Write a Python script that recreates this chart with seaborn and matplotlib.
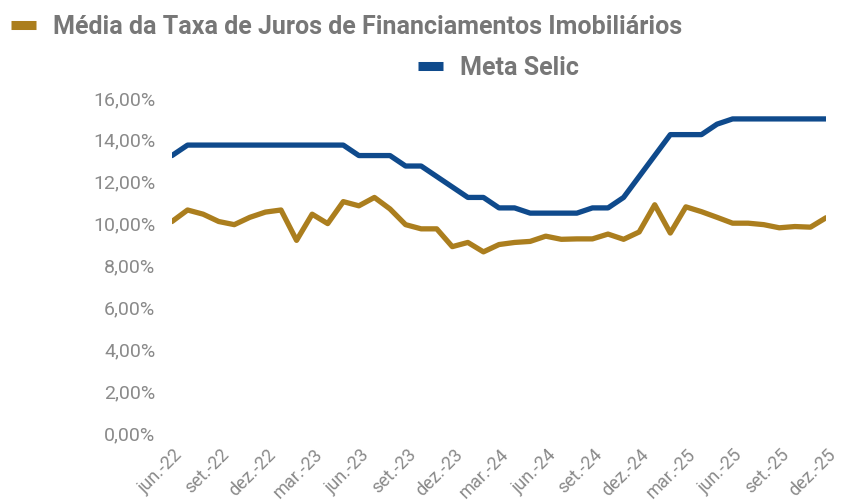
import matplotlib
matplotlib.use("Agg")
import matplotlib.pyplot as plt
import matplotlib.transforms as mtransforms
import seaborn as sns
import pandas as pd
from matplotlib.lines import Line2D
from matplotlib.ticker import FuncFormatter

# mês de referência (jun/22 a dez/25)
meses = [
    "jun.-22", "jul.-22", "ago.-22", "set.-22", "out.-22", "nov.-22", "dez.-22",
    "jan.-23", "fev.-23", "mar.-23", "abr.-23", "mai.-23", "jun.-23", "jul.-23",
    "ago.-23", "set.-23", "out.-23", "nov.-23", "dez.-23", "jan.-24", "fev.-24",
    "mar.-24", "abr.-24", "mai.-24", "jun.-24", "jul.-24", "ago.-24", "set.-24",
    "out.-24", "nov.-24", "dez.-24", "jan.-25", "fev.-25", "mar.-25", "abr.-25",
    "mai.-25", "jun.-25", "jul.-25", "ago.-25", "set.-25", "out.-25", "nov.-25",
    "dez.-25",
]

taxa_imob = [
    10.10, 10.65, 10.45, 10.10, 9.95, 10.30, 10.55, 10.65, 9.20, 10.45,
    10.00, 11.05, 10.85, 11.25, 10.70, 9.95, 9.75, 9.75, 8.90, 9.10,
    8.65, 9.00, 9.10, 9.15, 9.40, 9.25, 9.27, 9.27, 9.50, 9.25,
    9.60, 10.90, 9.55, 10.80, 10.57, 10.30, 10.02, 10.02, 9.95, 9.80,
    9.86, 9.83, 10.28,
]

meta_selic = [
    13.25, 13.75, 13.75, 13.75, 13.75, 13.75, 13.75, 13.75, 13.75, 13.75,
    13.75, 13.75, 13.25, 13.25, 13.25, 12.75, 12.75, 12.25, 11.75, 11.25,
    11.25, 10.75, 10.75, 10.50, 10.50, 10.50, 10.50, 10.75, 10.75, 11.25,
    12.25, 13.25, 14.25, 14.25, 14.25, 14.75, 15.00, 15.00, 15.00, 15.00,
    15.00, 15.00, 15.00,
]

rotulo_imob = "Média da Taxa de Juros de Financiamentos Imobiliários"
rotulo_selic = "Meta Selic"

cor_imob = "#AB7E1E"
cor_selic = "#0F4A8C"
cinza = "#8a8a8a"

df = pd.DataFrame({"pos": range(len(meses)), "mes": meses,
                   "imob": taxa_imob, "selic": meta_selic})

sns.set_style("white")
plt.rcParams["font.family"] = ["Roboto", "DejaVu Sans"]

fig = plt.figure(figsize=(8.41, 5.04), dpi=100)
ax = fig.add_axes([0.2045, 0.1409, 0.7777, 0.6647])

sns.lineplot(data=df, x="pos", y="imob", color=cor_imob, linewidth=3.8, ax=ax)
sns.lineplot(data=df, x="pos", y="selic", color=cor_selic, linewidth=3.8, ax=ax)

ax.set_xlim(0, len(meses) - 1)
ax.set_ylim(0, 16)
ax.set_yticks(range(0, 17, 2))
ax.yaxis.set_major_formatter(FuncFormatter(lambda v, p: f"{v:.2f}".replace(".", ",") + "%"))
ax.set_xticks(df["pos"][::3])
ax.set_xticklabels(df["mes"][::3], rotation=45, ha="right", rotation_mode="anchor")
ax.tick_params(axis="y", labelsize=14, colors=cinza, length=0, pad=12)
ax.tick_params(axis="x", labelsize=13, colors=cinza, length=0, pad=4)

# rótulos do eixo x um pouco mais abaixo, como no Excel
desloc = mtransforms.ScaledTranslation(1 / 100, -7 / 100, fig.dpi_scale_trans)
for lbl in ax.get_xticklabels():
    lbl.set_transform(lbl.get_transform() + desloc)

ax.set_xlabel("")
ax.set_ylabel("")
for s in ax.spines.values():
    s.set_visible(False)
ax.grid(False)

# legenda no topo, em duas linhas como no original
h1 = [Line2D([0], [0], color=cor_imob, linewidth=6.5, solid_capstyle="butt")]
h2 = [Line2D([0], [0], color=cor_selic, linewidth=6.5, solid_capstyle="butt")]
leg_kw = dict(frameon=False, handlelength=1.0, handletextpad=0.68, borderpad=0,
              borderaxespad=0, prop={"size": 18, "weight": "bold"}, labelcolor="#777777")
fig.legend(h1, [rotulo_imob], loc="center left", bbox_to_anchor=(0.0127, 0.947), **leg_kw)
fig.legend(h2, [rotulo_selic], loc="center left", bbox_to_anchor=(0.497, 0.865), **leg_kw)

fig.savefig("out.png", dpi=100, facecolor="white")
